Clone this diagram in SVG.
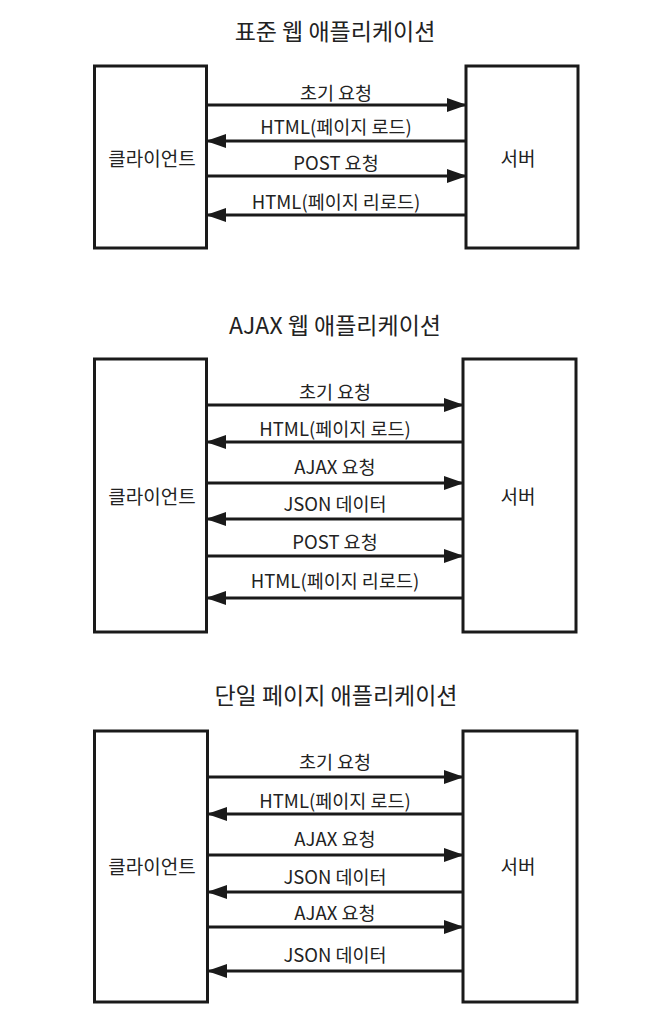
<svg xmlns="http://www.w3.org/2000/svg" width="668" height="1022" viewBox="0 0 668 1022">
<style>
text{font-family:"Noto Sans CJK KR","Noto Sans",sans-serif;fill:#222;}
.title{font-size:23px;text-anchor:middle;}
.lbl{font-size:18.5px;text-anchor:middle;}
.node rect{fill:#fff;stroke:#1a1a1a;stroke-width:3;}
.node text{font-size:19px;text-anchor:middle;}
.conn line{stroke:#1a1a1a;stroke-width:3;}
.r{marker-end:url(#ah);}
</style>
<defs>
<marker id="ah" markerUnits="userSpaceOnUse" markerWidth="20" markerHeight="14" refX="18" refY="7" orient="auto">
<path d="M0,0 L20,7 L0,14 z" fill="#1a1a1a"/>
</marker>
</defs>
<rect width="668" height="1022" fill="#fff"/>

<!-- Section 1 -->
<text class="title" x="335" y="40">표준 웹 애플리케이션</text>
<g id="client1" class="node"><rect x="94.5" y="66" width="112" height="182"/><text x="152" y="166">클라이언트</text></g>
<g id="server1" class="node"><rect x="466" y="66" width="112" height="182"/><text x="518" y="166">서버</text></g>
<g id="conn1" class="conn">
<line class="r" x1="208" y1="105" x2="465" y2="105"/>
<line class="r" x1="465" y1="141" x2="208" y2="141"/>
<line class="r" x1="208" y1="176" x2="465" y2="176"/>
<line class="r" x1="465" y1="215" x2="208" y2="215"/>
</g>
<g id="labels1">
<text class="lbl" x="336" y="100">초기 요청</text>
<text class="lbl" x="336" y="134">HTML(페이지 로드)</text>
<text class="lbl" x="336" y="170">POST 요청</text>
<text class="lbl" x="336" y="209">HTML(페이지 리로드)</text>
</g>

<!-- Section 2 -->
<text class="title" x="335" y="334">AJAX 웹 애플리케이션</text>
<g id="client2" class="node"><rect x="94.5" y="359" width="112" height="273"/><text x="152" y="504">클라이언트</text></g>
<g id="server2" class="node"><rect x="463" y="359" width="113" height="273"/><text x="518" y="504">서버</text></g>
<g id="conn2" class="conn">
<line class="r" x1="208" y1="405" x2="462" y2="405"/>
<line class="r" x1="462" y1="442" x2="208" y2="442"/>
<line class="r" x1="208" y1="483" x2="462" y2="483"/>
<line class="r" x1="462" y1="519" x2="208" y2="519"/>
<line class="r" x1="208" y1="556" x2="462" y2="556"/>
<line class="r" x1="462" y1="598" x2="208" y2="598"/>
</g>
<g id="labels2">
<text class="lbl" x="335" y="399">초기 요청</text>
<text class="lbl" x="335" y="436">HTML(페이지 로드)</text>
<text class="lbl" x="335" y="474">AJAX 요청</text>
<text class="lbl" x="335" y="511">JSON 데이터</text>
<text class="lbl" x="335" y="549">POST 요청</text>
<text class="lbl" x="335" y="588">HTML(페이지 리로드)</text>
</g>

<!-- Section 3 -->
<text class="title" x="336" y="704">단일 페이지 애플리케이션</text>
<g id="client3" class="node"><rect x="94.5" y="731" width="113" height="271"/><text x="152" y="874">클라이언트</text></g>
<g id="server3" class="node"><rect x="463" y="731" width="114" height="271"/><text x="518" y="874">서버</text></g>
<g id="conn3" class="conn">
<line class="r" x1="209" y1="777" x2="462" y2="777"/>
<line class="r" x1="462" y1="814" x2="209" y2="814"/>
<line class="r" x1="209" y1="855" x2="462" y2="855"/>
<line class="r" x1="462" y1="892" x2="209" y2="892"/>
<line class="r" x1="209" y1="927" x2="462" y2="927"/>
<line class="r" x1="462" y1="971" x2="209" y2="971"/>
</g>
<g id="labels3">
<text class="lbl" x="335" y="769">초기 요청</text>
<text class="lbl" x="335" y="808">HTML(페이지 로드)</text>
<text class="lbl" x="335" y="846">AJAX 요청</text>
<text class="lbl" x="335" y="884">JSON 데이터</text>
<text class="lbl" x="335" y="920">AJAX 요청</text>
<text class="lbl" x="335" y="962">JSON 데이터</text>
</g>
</svg>
